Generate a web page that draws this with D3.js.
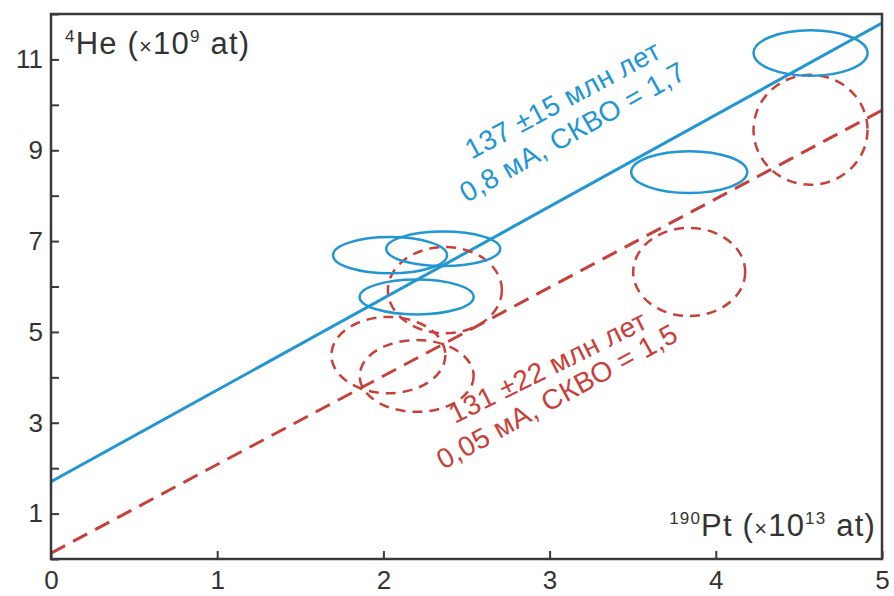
<!DOCTYPE html>
<html>
<head>
<meta charset="utf-8">
<script src="https://cdn.jsdelivr.net/npm/d3@7"></script>
<style>
  body { margin: 0; background: #fff; }
  svg text { font-family: "Liberation Sans", Arial, sans-serif; }
</style>
</head>
<body>
<script>
// data
var xTicks = [0, 1, 2, 3, 4, 5],
    yTicks = d3.range(0, 13),
    yLabels = [1, 3, 5, 7, 9, 11];

// blue ellipses: [cx, cy, rx, ry]
var blueEllipses = [
    [2.04, 6.69, 0.343, 0.40],
    [2.36, 6.83, 0.343, 0.38],
    [2.20, 5.77, 0.343, 0.385],
    [3.84, 8.52, 0.349, 0.46],
    [4.57, 11.14, 0.343, 0.50]
];

// red dashed ellipses: [cx, cy, rx, ry]
var redEllipses = [
    [4.57, 9.45, 0.343, 1.21],
    [3.84, 6.32, 0.337, 0.97],
    [2.37, 5.92, 0.343, 0.95],
    [2.03, 4.49, 0.343, 0.84],
    [2.20, 4.03, 0.343, 0.79]
];

// isochrons
var blueLine = [[0, 1.70], [5, 11.80]],
    redLine  = [[0, 0.13], [5, 9.88]];

// annotations: [x, y, angle, text]
var blueNotes = [
    [2.53, 8.79, -28.3, '137 ±15 млн лет'],
    [2.50, 7.84, -29.5, '0,8 мА, СКВО = 1,7']
];
var redNotes = [
    [2.43, 2.97, -26.5, '131 ±22 млн лет'],
    [2.36, 1.96, -28.8, '0,05 мА, СКВО = 1,5']
];

var blue = '#2196d3',
    red  = '#c8403a',
    axisColor = '#3a3a3a';

var width = 894, height = 596;

var x = d3.scaleLinear().domain([0, 5]).range([51, 882]);
var y = d3.scaleLinear().domain([0, 12]).range([559, 14]);

var svg = d3.select('body').append('svg')
    .attr('width', width)
    .attr('height', height);

// clip to plot area
svg.append('clipPath').attr('id', 'plot')
    .append('rect')
    .attr('x', x(0)).attr('y', y(12))
    .attr('width', x(5) - x(0)).attr('height', y(0) - y(12));

var plot = svg.append('g').attr('clip-path', 'url(#plot)');

// isochron lines
var line = d3.line().x(function(d) { return x(d[0]); }).y(function(d) { return y(d[1]); });

plot.append('path')
    .datum(redLine)
    .attr('d', line)
    .attr('fill', 'none')
    .attr('stroke', red)
    .attr('stroke-width', 3)
    .attr('stroke-dasharray', '16,9');

plot.append('path')
    .datum(blueLine)
    .attr('d', line)
    .attr('fill', 'none')
    .attr('stroke', blue)
    .attr('stroke-width', 3);

// red dashed ellipses
plot.selectAll('.red-ell').data(redEllipses).enter()
    .append('ellipse')
    .attr('class', 'red-ell')
    .attr('cx', function(d) { return x(d[0]); })
    .attr('cy', function(d) { return y(d[1]); })
    .attr('rx', function(d) { return x(d[2]) - x(0); })
    .attr('ry', function(d) { return y(0) - y(d[3]); })
    .attr('fill', 'none')
    .attr('stroke', red)
    .attr('stroke-width', 2.5)
    .attr('stroke-dasharray', '10,7');

// blue ellipses
plot.selectAll('.blue-ell').data(blueEllipses).enter()
    .append('ellipse')
    .attr('class', 'blue-ell')
    .attr('cx', function(d) { return x(d[0]); })
    .attr('cy', function(d) { return y(d[1]); })
    .attr('rx', function(d) { return x(d[2]) - x(0); })
    .attr('ry', function(d) { return y(0) - y(d[3]); })
    .attr('fill', 'none')
    .attr('stroke', blue)
    .attr('stroke-width', 2.5);

// annotations
function notes(data, color) {
    svg.selectAll(null).data(data).enter()
        .append('text')
        .attr('transform', function(d) {
            return 'translate(' + x(d[0]) + ',' + y(d[1]) + ') rotate(' + d[2] + ')';
        })
        .attr('fill', color)
        .attr('font-size', 28)
        .attr('letter-spacing', 0.4)
        .text(function(d) { return d[3]; });
}
notes(blueNotes, blue);
notes(redNotes, red);

// frame
svg.append('rect')
    .attr('x', x(0)).attr('y', y(12))
    .attr('width', x(5) - x(0)).attr('height', y(0) - y(12))
    .attr('fill', 'none')
    .attr('stroke', axisColor)
    .attr('stroke-width', 2.5);

// x axis (inward ticks)
var xAxis = svg.append('g')
    .attr('transform', 'translate(0,' + y(0) + ')')
    .call(d3.axisBottom(x).tickValues(xTicks).tickFormat(d3.format('d'))
        .tickSizeInner(-8).tickSizeOuter(0).tickPadding(12));
xAxis.select('.domain').remove();
xAxis.selectAll('line').attr('stroke', axisColor).attr('stroke-width', 2);
xAxis.selectAll('text')
    .attr('font-size', 26)
    .attr('fill', '#333')
    .attr('font-family', '"Liberation Sans", Arial, sans-serif');

// y axis (inward ticks)
var yAxis = svg.append('g')
    .attr('transform', 'translate(' + x(0) + ',0)')
    .call(d3.axisLeft(y).tickValues(yTicks).tickSizeInner(-8).tickSizeOuter(0).tickPadding(8)
        .tickFormat(function(d) { return yLabels.indexOf(d) >= 0 ? d : ''; }));
yAxis.select('.domain').remove();
yAxis.selectAll('line').attr('stroke', axisColor).attr('stroke-width', 2);
yAxis.selectAll('text')
    .attr('font-size', 26)
    .attr('fill', '#333')
    .attr('font-family', '"Liberation Sans", Arial, sans-serif');

// axis titles
var yTitle = svg.append('text')
    .attr('x', x(0) + 14).attr('y', y(12) + 40)
    .attr('font-size', 31)
    .attr('letter-spacing', 1.2)
    .attr('fill', '#333');
yTitle.append('tspan').attr('font-size', 17).attr('dy', -12).text('4');
yTitle.append('tspan').attr('dy', 12).text('He (');
yTitle.append('tspan').attr('font-size', 22).text('×');
yTitle.append('tspan').text('10');
yTitle.append('tspan').attr('font-size', 17).attr('dy', -12).text('9');
yTitle.append('tspan').attr('dy', 12).text(' at)');

var xTitle = svg.append('text')
    .attr('x', x(5) - 6).attr('y', y(0) - 23)
    .attr('text-anchor', 'end')
    .attr('font-size', 31)
    .attr('letter-spacing', 1.2)
    .attr('fill', '#333');
xTitle.append('tspan').attr('font-size', 17).attr('dy', -12).text('190');
xTitle.append('tspan').attr('dy', 12).text('Pt (');
xTitle.append('tspan').attr('font-size', 22).text('×');
xTitle.append('tspan').text('10');
xTitle.append('tspan').attr('font-size', 17).attr('dy', -12).text('13');
xTitle.append('tspan').attr('dy', 12).text(' at)');
</script>
</body>
</html>
